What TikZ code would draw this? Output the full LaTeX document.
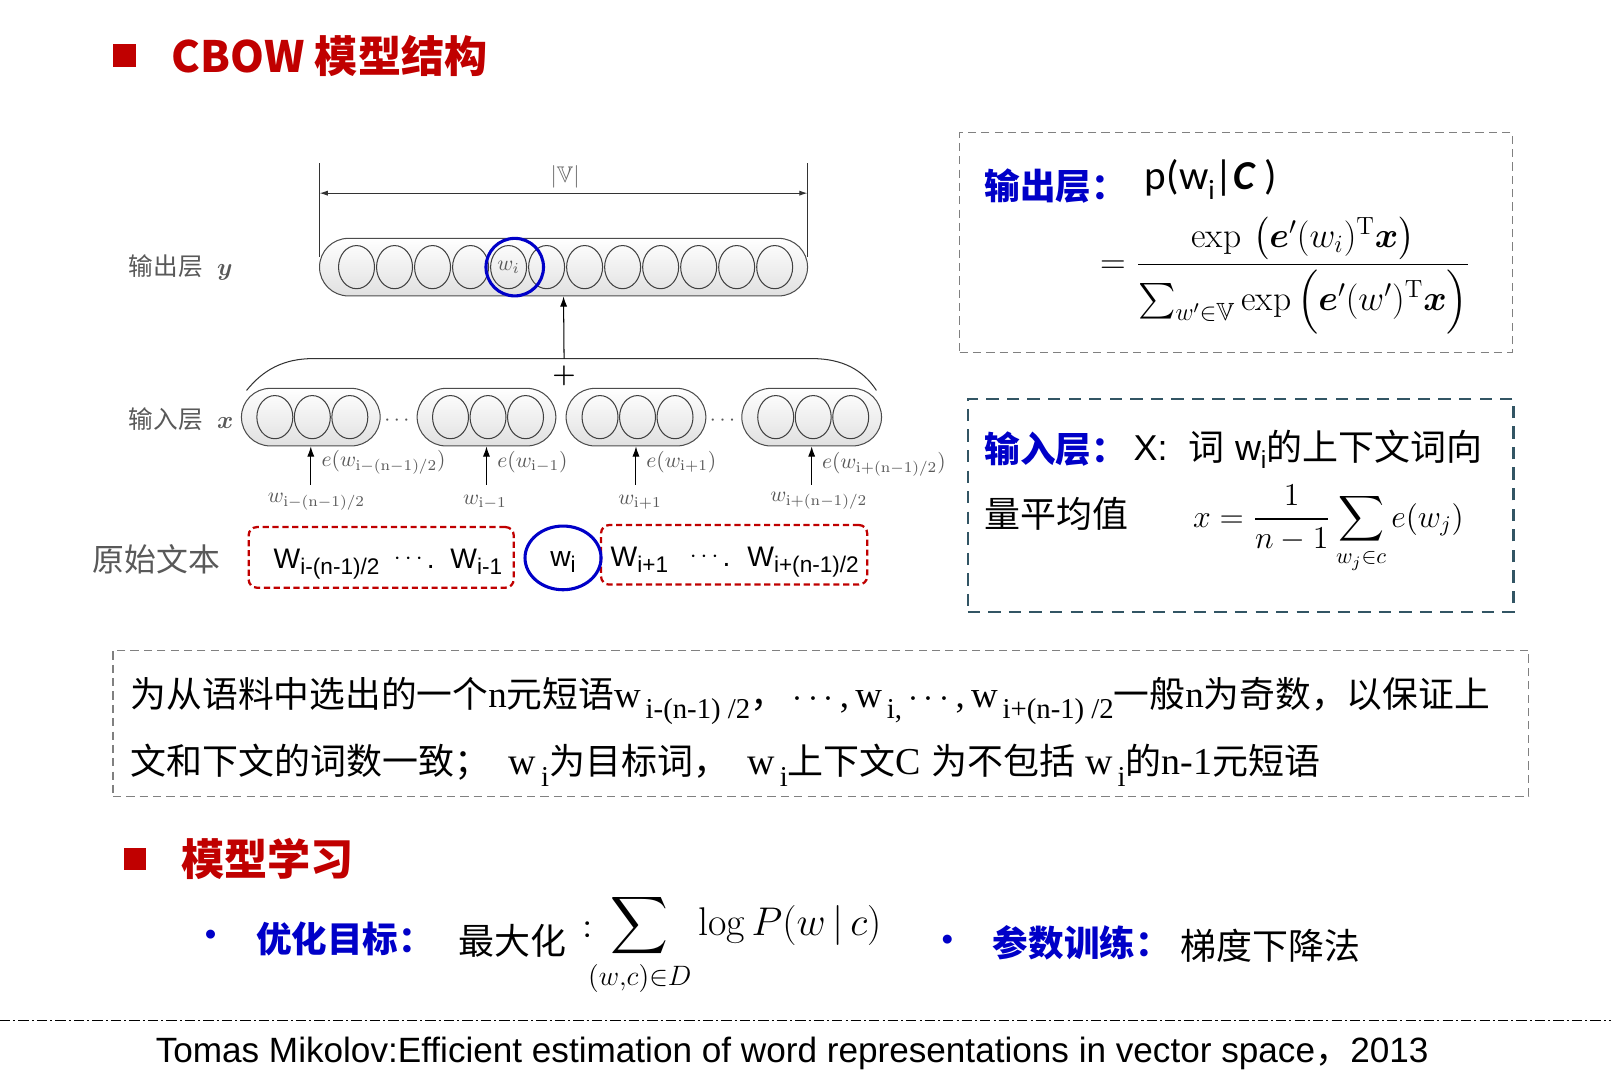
\RequirePackage{fix-cm}
\documentclass[tikz,border=0pt]{standalone}
\usepackage{amsmath,amssymb}
\usepackage{graphicx}
\usepackage{fontspec}
\newfontfamily\cjk{Noto Sans CJK SC}
\newfontfamily\arial{Liberation Sans}
\newfontfamily\tnr{Liberation Serif}
\newfontfamily\calib{Carlito}
\usetikzlibrary{shapes.geometric,arrows.meta}
\definecolor{redT}{RGB}{192,0,0}
\definecolor{blueT}{RGB}{0,0,200}
\definecolor{tealB}{RGB}{50,85,100}
\newcommand\setfs[1]{\fontsize{#1}{#1}\selectfont}
\def\tmsize{18}
\def\subsize{14}
\newcommand\zh[1]{{\cjk #1}}
\newcommand\tm[1]{{\tnr\setfs{\tmsize}#1}}
\newcommand\tsub[1]{\raisebox{-0.32em}{\tnr\setfs{\subsize}#1}}
\newcommand\lsub[1]{\raisebox{-0.22em}{\setfs{11}\arial #1}}
\tikzset{
  pill/.style={draw=black!70, line width=0.5pt, rounded corners=14pt, top color=white, bottom color=black!12, inner sep=0pt},
  cell/.style={ellipse, draw=black!75, line width=0.5pt, minimum width=17.5pt, minimum height=21pt, inner sep=0pt},
  sq/.style={fill=redT, minimum size=11pt, inner sep=0pt},
  heading/.style={text=redT, font=\cjk\bfseries\setfs{21}},
  bluebold/.style={text=blueT, font=\cjk\bfseries\setfs{17.3}},
  glab/.style={text=black!65, font=\setfs{10.5}},
  ctxbox/.style={draw=redT, dash pattern=on 3pt off 1.8pt, line width=1.1pt, rounded corners=4pt, inner sep=0pt},
  bluering/.style={draw=blueT, line width=1.5pt, inner sep=0pt},
  graybox/.style={draw=black!50, dash pattern=on 4pt off 2.5pt, line width=0.6pt, inner sep=0pt},
  tealbox/.style={draw=tealB, dash pattern=on 6pt off 4pt, line width=1.1pt, inner sep=0pt},
  arr/.style={-{Latex[length=5pt,width=3.5pt]}, line width=0.5pt},
  wfont/.style={font=\arial\setfs{13.75}}
}
\begin{document}
\begin{tikzpicture}[x=0.5pt,y=-0.5pt]
\path[fill=white, use as bounding box] (0,0) rectangle (1568,1045);

% title
\node[sq] (tsq) at (121,54) {};
\node[heading, anchor=west, inner sep=0pt] (title) at (167,55) {CBOW 模型结构};

% |V| dimension
\coordinate (vl1) at (311,159); \coordinate (vl2) at (311,250);
\coordinate (vr1) at (786,159); \coordinate (vr2) at (786,250);
\draw[line width=0.5pt, black!80] (vl1) -- (vl2);
\draw[line width=0.5pt, black!80] (vr1) -- (vr2);
\coordinate (al) at (311,188); \coordinate (ar) at (786,188);
\draw[{Latex[length=4pt,width=2.5pt]}-{Latex[length=4pt,width=2.5pt]}, line width=0.5pt, black!80] (al) -- (ar);
\node[text=black!60, font=\setfs{11}] (V) at (550,172) {$|\mathbb{V}|$};

% output layer
\node[anchor=west, text=black!65, font=\cjk\setfs{12}, inner sep=0pt] (ylab) at (125,260) {输出层\hspace{7pt}$\boldsymbol{y}$};
\node[pill, minimum width=237.5pt, minimum height=28pt] (outp) at (548.5,260) {};
\foreach \k in {1,...,12} \node[cell] (o\k) at ({347+37*(\k-1)},260) {};
\node[glab] (wil) at (o5) {$w_i$};
\node[bluering, circle, minimum size=28pt] (wic) at (501,260) {};

% bracket and sum arrow
\coordinate (b1) at (240,380); \coordinate (b2) at (305,349);
\coordinate (b3) at (790,349); \coordinate (b4) at (853,380);
\coordinate (sum) at (549,349);
\draw[line width=0.5pt, black!80] (b1) .. controls (256,360) and (276,349) .. (b2) -- (b3) .. controls (820,349) and (840,360) .. (b4);
\draw[arr] (sum) -- (outp.south);
\node[font=\bfseries\setfs{13}] (plus) at (549,366) {+};

% input layer
\node[anchor=west, text=black!65, font=\cjk\setfs{12}, inner sep=0pt] (xlab) at (125,408) {输入层\hspace{7pt}$\boldsymbol{x}$};
\node[pill, minimum width=67.5pt, minimum height=28pt] (p1) at (302.5,406) {};
\node[pill, minimum width=67.5pt, minimum height=28pt] (p2) at (473.5,406) {};
\node[pill, minimum width=68pt, minimum height=28pt] (p3) at (619,406) {};
\node[pill, minimum width=68pt, minimum height=28pt] (p4) at (790,406) {};
\foreach \p/\c in {1/302.5,2/473.5,3/619,4/790} {
  \foreach \j in {1,2,3} \node[cell] (i\p\j) at ({\c+1.5+36.5*(\j-2)},406) {};
}
\node[glab] (d1) at (388,409) {$\cdots$};
\node[glab] (d2) at (705,409) {$\cdots$};

% embeddings
\coordinate (s1) at (302.5,472); \coordinate (s2) at (473.5,472);
\coordinate (s3) at (619,472); \coordinate (s4) at (790,472);
\draw[arr] (s1) -- (p1.south);
\draw[arr] (s2) -- (p2.south);
\draw[arr] (s3) -- (p3.south);
\draw[arr] (s4) -- (p4.south);
\node[glab, anchor=west] (e1) at (306,450) {$e(w_{\mathrm{i}-(\mathrm{n}-1)/2})$};
\node[glab, anchor=west] (e2) at (477,450) {$e(w_{\mathrm{i}-1})$};
\node[glab, anchor=west] (e3) at (622,450) {$e(w_{\mathrm{i}+1})$};
\node[glab, anchor=west] (e4) at (793,452) {$e(w_{\mathrm{i}+(\mathrm{n}-1)/2})$};
\node[glab] (l1) at (308,488) {$w_{\mathrm{i}-(\mathrm{n}-1)/2}$};
\node[glab] (l2) at (472,489) {$w_{\mathrm{i}-1}$};
\node[glab] (l3) at (623,489) {$w_{\mathrm{i}+1}$};
\node[glab] (l4) at (797,487) {$w_{\mathrm{i}+(\mathrm{n}-1)/2}$};

% raw text
\node[text=black!65, font=\cjk\setfs{15.5}] (raw) at (152,544) {原始文本};
\node[ctxbox, minimum width=129pt, minimum height=29.5pt] (cl) at (371,542.5) {};
\node[ctxbox, minimum width=129.5pt, minimum height=29pt] (cr) at (714.5,540) {};
\node[bluering, ellipse, minimum width=37pt, minimum height=31pt] (wi2) at (548,543) {};
\node[wfont, anchor=base west, inner sep=0pt] (t1) at (266,553) {W\lsub{i-(n-1)/2}};
\node[wfont, anchor=base west, inner sep=0pt] (t2) at (383,553) {\raisebox{0.12em}{\setfs{12}$\cdots$}.};
\node[wfont, anchor=base west, inner sep=0pt] (t3) at (438,553) {W\lsub{i-1}};
\node[wfont, anchor=base, inner sep=0pt] (t4) at (548,551) {w\lsub{i}};
\node[wfont, anchor=base west, inner sep=0pt] (t5) at (594,551) {W\lsub{i+1}};
\node[wfont, anchor=base west, inner sep=0pt] (t6) at (671,551) {\raisebox{0.12em}{\setfs{12}$\cdots$}.};
\node[wfont, anchor=base west, inner sep=0pt] (t7) at (727,551) {W\lsub{i+(n-1)/2}};

% output box
\node[graybox, minimum width=269pt, minimum height=107pt] (ob) at (1203,236) {};
\node[bluebold, anchor=west, inner sep=0pt] (obt) at (958,181) {输出层：};
\node[anchor=west, font=\calib\setfs{20}, inner sep=0pt] (pw) at (1114,175) {p(w\raisebox{-0.25em}{\setfs{13.5}i}|{\bfseries\itshape C} )};
\node[font=\setfs{17.3}, inner sep=0pt] (frac) at (1251,268) {$=\dfrac{\exp\,\left(\boldsymbol{e}'(w_i)^{\mathrm{T}}\boldsymbol{x}\right)}{\textstyle\sum_{w'\in\mathbb{V}}\exp\,\Bigl(\boldsymbol{e}'(w')^{\mathrm{T}}\boldsymbol{x}\Bigr)}$};

% input box
\node[tealbox, minimum width=265.5pt, minimum height=104pt] (ib) at (1207.5,492) {};
\node[bluebold, anchor=west, inner sep=0pt] (ibt) at (958,437) {输入层：};
\node[anchor=west, font=\setfs{17.5}, inner sep=0pt] (ibx) at (1103,437) {{\arial X:}\hspace{10pt}{\cjk 词} {\arial w\raisebox{-0.22em}{\setfs{12}i}}{\cjk 的上下文词向}};
\node[anchor=west, font=\cjk\setfs{17.5}, inner sep=0pt] (ibq) at (958,500) {量平均值};
\node[font=\setfs{15.5}, inner sep=0pt] (ibf) at (1293,515) {$x=\dfrac{1}{n-1}\displaystyle\sum_{w_j\in c}e(w_j)$};

% description box
\node[graybox, minimum width=689pt, minimum height=71pt] (db) at (799,704) {};
\node[anchor=west, font=\setfs{17.4}, inner sep=0pt] (dl1) at (127,682) {\zh{为从语料中选出的一个}\tm{n}\zh{元短语}\tm{w}\tsub{\,i-(n-1) /2}\zh{，}\hspace{3pt}$\cdots$\tm{,\,w}\tsub{\,i,}\,$\cdots$\tm{,\,w}\tsub{\,i+(n-1) /2}\zh{一般}\tm{n}\zh{为奇数，以保证上}};
\node[anchor=west, font=\setfs{17.5}, inner sep=0pt] (dl2) at (127,745) {\def\tmsize{18.5}\zh{文和下文的词数一致；}\hspace{9pt}\tm{w}\tsub{\,i}\zh{为目标词，}\hspace{9pt}\tm{w}\tsub{\,i}\zh{上下文}\tm{C}\hspace{5pt}\zh{为不包括}\hspace{5pt}\tm{w}\tsub{\,i}\zh{的}\tm{n-1}\zh{元短语}};

% model learning
\node[sq] (hsq) at (131.5,836) {};
\node[heading, anchor=west, inner sep=0pt] (h2) at (176,836) {模型学习};
\node[text=blueT, font=\arial\setfs{16}] (bu1) at (205,913) {•};
\node[bluebold, anchor=west, inner sep=0pt] (g1) at (249,914) {优化目标：};
\node[anchor=west, font=\cjk\setfs{17.5}, inner sep=0pt] (g1t) at (446,916) {最大化};
\node[anchor=west, font=\cjk\setfs{12}, inner sep=0pt] (col) at (566,905) {：};
\node[anchor=base west, font=\setfs{19.5}, inner sep=0pt] (obj) at (572,911) {$\displaystyle\sum_{(w,c)\in D}\log P(w\,|\,c)$};
\node[text=blueT, font=\arial\setfs{16}] (bu2) at (922,918) {•};
\node[bluebold, anchor=west, inner sep=0pt] (g2) at (966,918) {参数训练：};
\node[anchor=west, font=\cjk\setfs{17.5}, inner sep=0pt] (g2t) at (1149,920) {梯度下降法};

% footer
\coordinate (fl) at (0,993); \coordinate (fr) at (1568,993);
\draw[dash pattern=on 5pt off 1.5pt on 1pt off 1.5pt, line width=0.6pt] (fl) -- (fr);
\node[font=\arial\setfs{17.1}, inner sep=0pt] (ref) at (771,1025) {Tomas Mikolov:Efficient estimation of word representations in vector space{\cjk ，}2013};
\end{tikzpicture}
\end{document}
